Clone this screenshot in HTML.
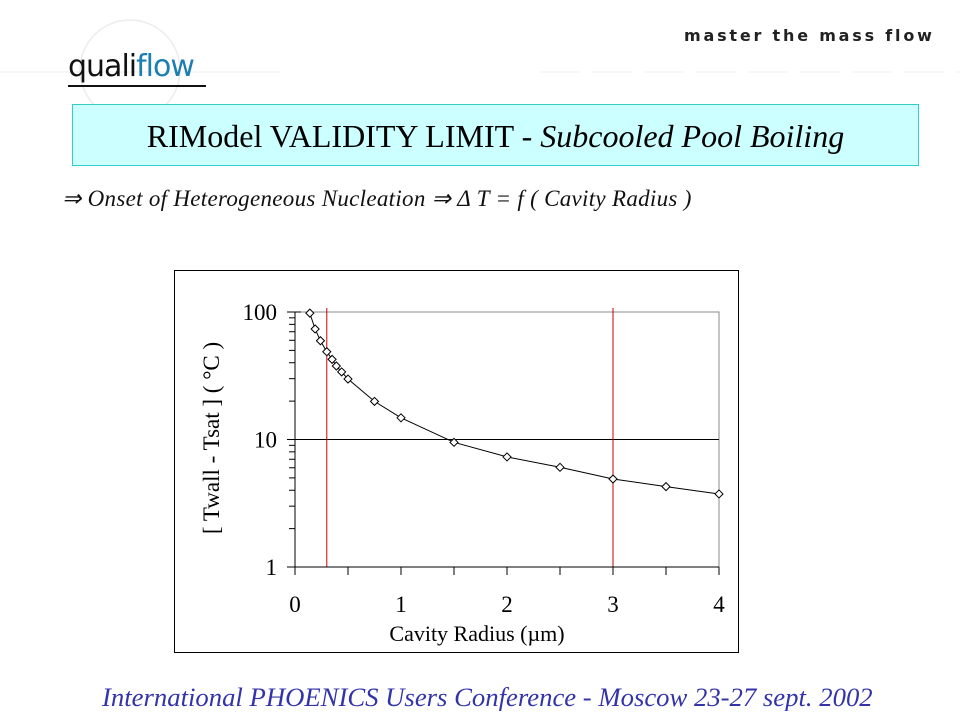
<!DOCTYPE html>
<html style="overflow:hidden;width:960px;height:720px"><head><meta charset="utf-8"><style>
body{margin:0;width:960px;height:720px;background:#fff;position:relative;overflow:hidden;font-family:"Liberation Serif",serif}
.abs{position:absolute;white-space:nowrap}
</style></head><body>
<svg class="abs" style="left:0;top:0" width="960" height="720">
<circle cx="130" cy="70" r="50" fill="none" stroke="#ececec" stroke-width="1.5"/>
<line x1="0" y1="72" x2="280" y2="72" stroke="#ececec"/>
<line x1="540" y1="72" x2="960" y2="72" stroke="#f0f0f0" stroke-dasharray="40 12"/>
</svg>
<div class="abs" style="left:68px;top:52px;font-family:'DejaVu Sans',sans-serif;font-size:30px;letter-spacing:-1px;line-height:30px"><span style="color:#111">quali</span><span style="color:#1b7fb3">flow</span></div>
<div class="abs" style="left:68px;top:85px;width:138px;height:2px;background:#111"></div>
<div class="abs" style="left:684px;top:26px;font-family:'DejaVu Sans',sans-serif;font-weight:bold;font-size:16px;letter-spacing:2.8px;color:#222">master the mass flow</div>
<div class="abs" style="left:72px;top:104px;width:847px;height:62px;background:#ccffff;border:1px solid #33cccc;box-sizing:border-box;text-align:center;line-height:62px;font-size:32px;color:#000">RIModel VALIDITY LIMIT - <i>Subcooled Pool Boiling</i></div>
<div class="abs" style="left:62px;top:185px;font-size:23px;line-height:28px;letter-spacing:0.3px;font-style:italic;color:#111">⇒ Onset of Heterogeneous Nucleation ⇒ Δ T = f ( Cavity Radius )</div>
<div class="abs" style="left:102px;top:683px;font-size:26.7px;line-height:28px;height:28px;overflow:hidden;font-style:italic;color:#3333aa">International PHOENICS Users Conference - Moscow 23-27 sept. 2002</div>
<svg class="abs" id="chart" style="left:0;top:0" width="960" height="720"></svg>
<script>
const xs=[0.14,0.19,0.24,0.30,0.35,0.39,0.44,0.50,0.75,1.0,1.5,2.0,2.5,3.0,3.5,4.0];
const ys=[98,73.6,59.5,48.8,42.5,37.7,33.9,29.8,19.9,14.8,9.5,7.3,6.05,4.9,4.27,3.74];
const xTicks=[0,1,2,3,4];
const yTicks=[1,10,100];
const limits=[0.3,3];
const refY=10;
const X0=295,X1=719,Y0=567,Y1=312;
const sx=v=>X0+(X1-X0)*v/4;
const sy=v=>Y0-(Y0-Y1)*Math.log10(v)/2;
const svg=document.getElementById('chart');
const NS='http://www.w3.org/2000/svg';
function mk(t,a){const e=document.createElementNS(NS,t);for(const k in a)e.setAttribute(k,a[k]);svg.appendChild(e);return e;}
let e;
e=mk('rect',{x:174.5,y:270.5,width:564,height:382,fill:'#fff',stroke:'#000'});


e=mk('rect',{x:X0,y:Y1,width:X1-X0,height:Y0-Y1,fill:'none',stroke:'#888'});


e=mk('line',{x1:X0,x2:X1,y1:sy(refY),y2:sy(refY),stroke:'#000'});


limits.forEach(v=>{e=mk('line',{x1:sx(v),x2:sx(v),y1:Y1-4,y2:Y0,stroke:'#cc0000'});

});
e=mk('line',{x1:X0,x2:X0,y1:Y1,y2:Y0,stroke:'#000'});


e=mk('line',{x1:X0,x2:X1,y1:Y0,y2:Y0,stroke:'#000'});


for(let d=0;d<2;d++)for(let m=1;m<=10;m++){const v=Math.pow(10,d)*m;const y=sy(v);
 mk('line',{x1:X0-(m==1||m==10?8:6),x2:X0+(m==1||m==10?6:0),y1:y,y2:y,stroke:'#000'});}
yTicks.forEach(v=>{e=mk('text',{x:X0-18,y:sy(v)+8,'text-anchor':'end','font-size':23,'font-family':'Liberation Serif'});e.textContent=v;

});
for(let v=0;v<=4;v+=0.5)mk('line',{x1:sx(v),x2:sx(v),y1:Y0,y2:Y0+8,stroke:'#000'});
xTicks.forEach(v=>{e=mk('text',{x:sx(v),y:Y0+45,'text-anchor':'middle','font-size':23,'font-family':'Liberation Serif'});e.textContent=v;

});
e=mk('text',{x:477,y:641,'text-anchor':'middle','font-size':22,'font-family':'Liberation Serif'});e.textContent='Cavity Radius (µm)';


e=mk('text',{x:0,y:0,'text-anchor':'middle','font-size':23,'font-family':'Liberation Serif',transform:'translate(219,438) rotate(-90)'});e.textContent='[ Twall - Tsat ] ( °C )';


let d='';xs.forEach((v,i)=>{d+=(i?'L':'M')+sx(v).toFixed(1)+','+sy(ys[i]).toFixed(1);});
e=mk('path',{d:d,fill:'none',stroke:'#000','stroke-width':1});


xs.forEach((v,i)=>{const cx=sx(v),cy=sy(ys[i]);
 e=mk('path',{d:`M${cx-4},${cy}L${cx},${cy-4}L${cx+4},${cy}L${cx},${cy+4}Z`,fill:'#fff',stroke:'#000'});
 
 });
</script>
</body></html>
